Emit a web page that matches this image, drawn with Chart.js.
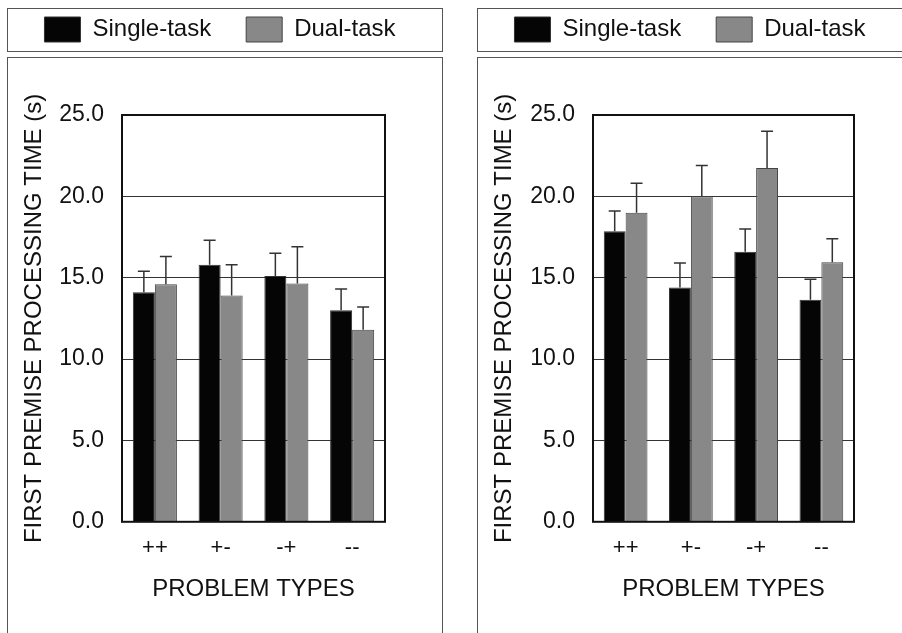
<!DOCTYPE html>
<html>
<head>
<meta charset="utf-8">
<script src="https://cdn.jsdelivr.net/npm/chart.js@4"></script>
<style>
  html, body { margin: 0; padding: 0; background: #fff; }
  body { width: 902px; height: 633px; position: relative; overflow: hidden; }
  .box { position: absolute; border: 1.5px solid #555; box-sizing: border-box; }
  .panel { position: absolute; top: 0; }
</style>
</head>
<body>
<div class="box" style="left:7px;top:8px;width:436px;height:44px"></div>
<div class="box" style="left:7px;top:57px;width:436px;height:590px"></div>
<div class="box" style="left:477px;top:8px;width:440px;height:44px"></div>
<div class="box" style="left:477px;top:57px;width:440px;height:590px"></div>
<div class="panel" style="left:0;width:452px;height:633px"><canvas id="leftChart"></canvas></div>
<div class="panel" style="left:470px;width:432px;height:633px"><canvas id="rightChart"></canvas></div>
<script>
// problem types on the x axis
const problemTypes = ['++', '+-', '-+', '--'];
const yTicks = [0, 5, 10, 15, 20, 25];

// left panel (means and upper error bar lengths, seconds)
const leftSingle = [14.1, 15.8, 15.1, 13.0];
const leftSingleErr = [1.3, 1.5, 1.4, 1.3];
const leftDual = [14.6, 13.9, 14.65, 11.8];
const leftDualErr = [1.7, 1.9, 2.25, 1.4];

// right panel
const rightSingle = [17.85, 14.4, 16.6, 13.65];
const rightSingleErr = [1.25, 1.5, 1.4, 1.25];
const rightDual = [19.0, 20.0, 21.75, 15.95];
const rightDualErr = [1.8, 1.9, 2.25, 1.45];

const FONT = "'Liberation Sans', Arial, sans-serif";

// draws the upward error bars on top of every bar
const errorBars = {
    id: 'errorBars',
    afterDatasetsDraw(chart) {
        const ctx = chart.ctx;
        const yScale = chart.scales.y;
        ctx.save();
        ctx.strokeStyle = '#333';
        ctx.lineWidth = 1.5;
        chart.data.datasets.forEach((ds, di) => {
            const meta = chart.getDatasetMeta(di);
            meta.data.forEach((bar, i) => {
                const yTop = yScale.getPixelForValue(ds.data[i] + ds.errors[i]);
                ctx.beginPath();
                ctx.moveTo(bar.x, bar.y);
                ctx.lineTo(bar.x, yTop);
                ctx.moveTo(bar.x - 6, yTop);
                ctx.lineTo(bar.x + 6, yTop);
                ctx.stroke();
            });
        });
        ctx.restore();
    }
};

// black frame around the plotting area
const plotFrame = {
    id: 'plotFrame',
    afterDraw(chart) {
        const a = chart.chartArea;
        const ctx = chart.ctx;
        ctx.save();
        ctx.strokeStyle = '#111';
        ctx.lineWidth = 2;
        ctx.strokeRect(a.left, a.top, a.right - a.left, a.bottom - a.top);
        ctx.restore();
    }
};

// moves the legend up into its own framed strip
const legendShift = {
    id: 'legendShift',
    afterLayout(chart, args, opts) {
        const l = chart.legend;
        const dx = opts.centerX - (l.left + l.right) / 2;
        l.left += dx;
        l.right += dx;
        l.top += opts.dy;
        l.bottom += opts.dy;
    }
};

function makeChart(id, single, singleErr, dual, dualErr, yWidth, rightGap, legendCenter) {
    const ctx = document.getElementById(id).getContext('2d');
    return new Chart(ctx, {
        type: 'bar',
        data: {
            labels: problemTypes,
            datasets: [{
                label: 'Single-task',
                data: single,
                errors: singleErr,
                backgroundColor: '#050505',
                borderColor: '#333',
                borderWidth: 1
            }, {
                label: 'Dual-task',
                data: dual,
                errors: dualErr,
                backgroundColor: '#888888',
                borderColor: '#444',
                borderWidth: 1
            }]
        },
        options: {
            responsive: true,
            maintainAspectRatio: false,
            animation: false,
            layout: { padding: { top: 45, right: 0, bottom: 29, left: 0 } },
            categoryPercentage: 0.67,
            barPercentage: 1.0,
            plugins: {
                tooltip: { enabled: false },
                legendShift: { centerX: legendCenter, dy: -63 },
                legend: {
                    position: 'top',
                    labels: {
                        boxWidth: 36,
                        boxHeight: 25,
                        padding: 35,
                        color: '#111',
                        font: { family: FONT, size: 24 }
                    }
                }
            },
            scales: {
                x: {
                    grid: { display: false, drawTicks: false },
                    border: { display: false },
                    ticks: { color: '#111', padding: 13, font: { family: FONT, size: 22 } },
                    title: {
                        display: true,
                        text: 'PROBLEM TYPES',
                        color: '#111',
                        padding: { top: 1, bottom: 0 },
                        font: { family: FONT, size: 24 }
                    }
                },
                y: {
                    min: 0,
                    max: 25,
                    afterBuildTicks(scale) {
                        scale.ticks = yTicks.map(v => ({ value: v }));
                    },
                    afterFit(scale) { scale.width = yWidth; },
                    grid: { color: '#333', lineWidth: 1, drawTicks: false },
                    border: { display: false },
                    ticks: {
                        color: '#111',
                        padding: 18,
                        font: { family: FONT, size: 23 },
                        callback: v => v.toFixed(1)
                    },
                    title: {
                        display: true,
                        text: 'FIRST PREMISE PROCESSING TIME (s)',
                        color: '#111',
                        padding: { top: 20, bottom: 0 },
                        font: { family: FONT, size: 24 }
                    }
                },
                // empty spacer axis keeping the white margin right of the plot
                spacer: {
                    type: 'linear',
                    position: 'right',
                    grid: { display: false, drawTicks: false },
                    border: { display: false },
                    ticks: { display: false },
                    afterFit(scale) { scale.width = rightGap; }
                }
            }
        },
        plugins: [errorBars, plotFrame, legendShift]
    });
}

makeChart('leftChart', leftSingle, leftSingleErr, leftDual, leftDualErr, 122, 67, 220);
makeChart('rightChart', rightSingle, rightSingleErr, rightDual, rightDualErr, 123, 48, 220);
</script>
</body>
</html>
